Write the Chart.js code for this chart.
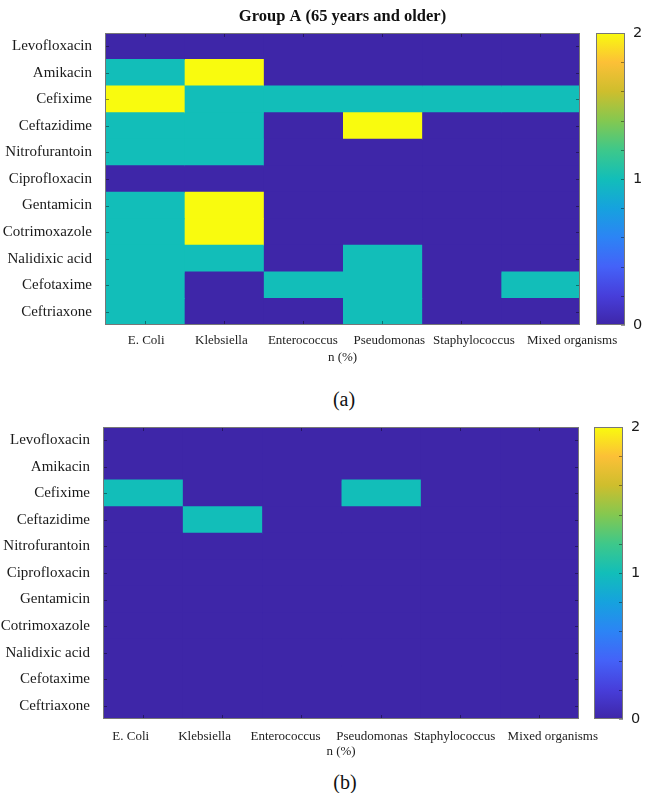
<!DOCTYPE html>
<html>
<head>
<meta charset="utf-8">
<script src="https://cdn.jsdelivr.net/npm/chart.js@4/dist/chart.umd.min.js"></script>
<style>
  html, body { margin:0; padding:0; background:#fff; }
  body { width:646px; height:793px; position:relative; overflow:hidden; font-family:"Liberation Serif","Times New Roman",serif; }
  canvas { position:absolute; }
  .cap { position:absolute; font-size:20px; color:#111; transform:translate(-50%,-50%); white-space:nowrap; line-height:1; }
</style>
</head>
<body>
<canvas id="hmA" width="646" height="367" style="left:0;top:0"></canvas>
<canvas id="cbA" width="50" height="345" style="left:596px;top:0"></canvas>
<div class="cap" style="left:344px;top:399px">(a)</div>
<canvas id="hmB" width="646" height="367" style="left:0;top:394px"></canvas>
<canvas id="cbB" width="50" height="345" style="left:594px;top:394px"></canvas>
<div class="cap" style="left:345px;top:782px">(b)</div>
<script>
// ---------- data ----------
const drugs = ['Levofloxacin','Amikacin','Cefixime','Ceftazidime','Nitrofurantoin','Ciprofloxacin','Gentamicin','Cotrimoxazole','Nalidixic acid','Cefotaxime','Ceftriaxone'];
const organisms = ['E. Coli','Klebsiella','Enterococcus','Pseudomonas','Staphylococcus','Mixed organisms'];

// Group A (65 years and older): counts per drug (same order as drugs)
const groupA_EColi          = [0,1,2,1,1,0,1,1,1,1,1];
const groupA_Klebsiella     = [0,2,1,1,1,0,2,2,1,0,0];
const groupA_Enterococcus   = [0,0,1,0,0,0,0,0,0,1,0];
const groupA_Pseudomonas    = [0,0,1,2,0,0,0,0,1,1,1];
const groupA_Staphylococcus = [0,0,1,0,0,0,0,0,0,0,0];
const groupA_Mixed          = [0,0,1,0,0,0,0,0,0,1,0];

// Group B (panel b)
const groupB_EColi          = [0,0,1,0,0,0,0,0,0,0,0];
const groupB_Klebsiella     = [0,0,0,1,0,0,0,0,0,0,0];
const groupB_Enterococcus   = [0,0,0,0,0,0,0,0,0,0,0];
const groupB_Pseudomonas    = [0,0,1,0,0,0,0,0,0,0,0];
const groupB_Staphylococcus = [0,0,0,0,0,0,0,0,0,0,0];
const groupB_Mixed          = [0,0,0,0,0,0,0,0,0,0,0];

const colorMin = 0;
const colorMax = 2;
const colorbarLabels = [0,1,2];

// ---------- layout / style ----------
// where the x tick label text sits (in column units), as in the reference
const labelAtA = [0.52,1.47,2.50,3.59,4.66,5.90];
const labelAtB = [0.35,1.28,2.30,3.39,4.43,5.67];

const PARULA = [
  [0.0,[62,38,168]],[0.1,[71,62,218]],[0.2,[68,98,248]],[0.3,[44,132,245]],
  [0.4,[22,162,222]],[0.5,[18,190,185]],[0.6,[62,200,138]],[0.7,[132,200,80]],
  [0.8,[206,190,45]],[0.9,[252,192,55]],[1.0,[249,251,14]]
];
function parula(t){
  t = Math.max(0, Math.min(1, t));
  for (let i=1;i<PARULA.length;i++){
    if (t <= PARULA[i][0]){
      const [t0,c0] = PARULA[i-1], [t1,c1] = PARULA[i];
      const f = (t - t0)/(t1 - t0);
      const c = c0.map((v,k)=>Math.round(v + (c1[k]-v)*f));
      return `rgb(${c[0]},${c[1]},${c[2]})`;
    }
  }
  return 'rgb(249,251,14)';
}

const serif = '"Liberation Serif","Times New Roman",serif';

const framePlugin = {
  id: 'frame',
  afterDatasetsDraw(chart, args, opts) {
    const {ctx, chartArea:a, scales} = chart;
    ctx.save();
    ctx.lineWidth = 1;
    ctx.strokeStyle = opts.tickColor || 'rgba(0,0,0,0.4)';
    const L = 4;
    ctx.beginPath();
    if (opts.kind === 'heat') {
      organisms.forEach((_, j) => {
        const x = Math.round(scales.x.getPixelForValue(j + 0.5)) + 0.5;
        ctx.moveTo(x, a.bottom); ctx.lineTo(x, a.bottom - L);
        ctx.moveTo(x, a.top); ctx.lineTo(x, a.top + L);
      });
      drugs.forEach((_, i) => {
        const y = Math.round(scales.y.getPixelForValue(i)) + 0.5;
        ctx.moveTo(a.left, y); ctx.lineTo(a.left + L, y);
        ctx.moveTo(a.right, y); ctx.lineTo(a.right - L, y);
      });
    } else {
      scales.y.ticks.forEach(t => {
        const y = Math.round(scales.y.getPixelForValue(t.value)) + 0.5;
        ctx.moveTo(a.right, y); ctx.lineTo(a.right - L, y);
      });
    }
    ctx.stroke();
    ctx.strokeStyle = opts.frameColor || '#777';
    ctx.strokeRect(Math.round(a.left) + 0.5, Math.round(a.top) + 0.5, Math.round(a.width) - 1, Math.round(a.height) - 1);
    ctx.restore();
  }
};

function heatmap(id, columns, p) {
  const datasets = columns.map((vals, j) => ({
    label: organisms[j],
    data: vals.map(() => [j, j + 1]),
    backgroundColor: ctx => parula((vals[ctx.dataIndex] - colorMin) / (colorMax - colorMin)),
    borderWidth: 0,
    inflateAmount: 0.5,
    barPercentage: 1,
    categoryPercentage: 1,
    grouped: false
  }));
  return new Chart(document.getElementById(id), {
    type: 'bar',
    data: { labels: drugs, datasets },
    plugins: [framePlugin],
    options: {
      indexAxis: 'y',
      responsive: false,
      animation: false,
      devicePixelRatio: 1,
      events: [],
      layout: { padding: { left: 0, right: 646 - p.right, top: p.padTop, bottom: 0 } },
      plugins: {
        legend: { display: false },
        tooltip: { enabled: false },
        frame: { kind: 'heat' },
        title: p.title ? {
          display: true, text: p.title, fullSize: false, color: '#111',
          font: { family: serif, size: 16.5, weight: 'bold' },
          padding: { top: 6.5, bottom: 6.7 }
        } : { display: false }
      },
      scales: {
        x: {
          type: 'linear', min: 0, max: organisms.length,
          afterBuildTicks: s => { s.ticks = p.labelAt.map(v => ({ value: v })); },
          afterFit: s => { s.height = 42; },
          ticks: {
            autoSkip: false, maxRotation: 0, minRotation: 0,
            padding: p.xPad, color: '#222',
            font: { family: serif, size: 13 },
            callback: (v, i) => organisms[i]
          },
          grid: { display: false, drawTicks: false },
          border: { display: false },
          title: { display: true, text: 'n (%)', color: '#222', font: { family: serif, size: 13 }, padding: { top: 0, bottom: 2 } }
        },
        y: {
          type: 'category',
          afterFit: s => { s.width = p.left; },
          ticks: { padding: 13, color: '#1a1a1a', font: { family: serif, size: 15 } },
          grid: { display: false, drawTicks: false },
          border: { display: false }
        }
      }
    }
  });
}

function colorbar(id) {
  return new Chart(document.getElementById(id), {
    type: 'bar',
    data: {
      labels: [''],
      datasets: [{
        data: [[colorMin, colorMax]],
        backgroundColor: ctx => {
          const a = ctx.chart.chartArea;
          if (!a) return 'rgb(18,190,185)';
          const g = ctx.chart.ctx.createLinearGradient(0, a.bottom, 0, a.top);
          PARULA.forEach(([t, c]) => g.addColorStop(t, `rgb(${c[0]},${c[1]},${c[2]})`));
          return g;
        },
        borderWidth: 0,
        barPercentage: 1,
        categoryPercentage: 1
      }]
    },
    plugins: [framePlugin],
    options: {
      responsive: false,
      animation: false,
      devicePixelRatio: 1,
      events: [],
      layout: { padding: { left: 0, right: 0, top: 33, bottom: 20 } },
      plugins: { legend: { display: false }, tooltip: { enabled: false }, frame: { kind: 'bar' } },
      scales: {
        x: { display: false },
        y: {
          position: 'right', min: colorMin, max: colorMax,
          afterFit: s => { s.width = 21; },
          ticks: {
            stepSize: 0.2, padding: 8, color: '#1a1a1a',
            font: { family: '"DejaVu Sans",sans-serif', size: 14.5 },
            callback: v => {
              const r = Math.round(v);
              return (Math.abs(v - r) < 1e-6 && colorbarLabels.includes(r)) ? String(r) : '';
            }
          },
          grid: { display: false, drawTicks: false },
          border: { display: false }
        }
      }
    }
  });
}

heatmap('hmA',
  [groupA_EColi, groupA_Klebsiella, groupA_Enterococcus, groupA_Pseudomonas, groupA_Staphylococcus, groupA_Mixed],
  { title: 'Group A (65 years and older)', padTop: 0, left: 105, right: 580, xPad: 8, labelAt: labelAtA });
heatmap('hmB',
  [groupB_EColi, groupB_Klebsiella, groupB_Enterococcus, groupB_Pseudomonas, groupB_Staphylococcus, groupB_Mixed],
  { title: null, padTop: 33, left: 103, right: 579, xPad: 10, labelAt: labelAtB });
colorbar('cbA');
colorbar('cbB');
</script>
</body>
</html>
